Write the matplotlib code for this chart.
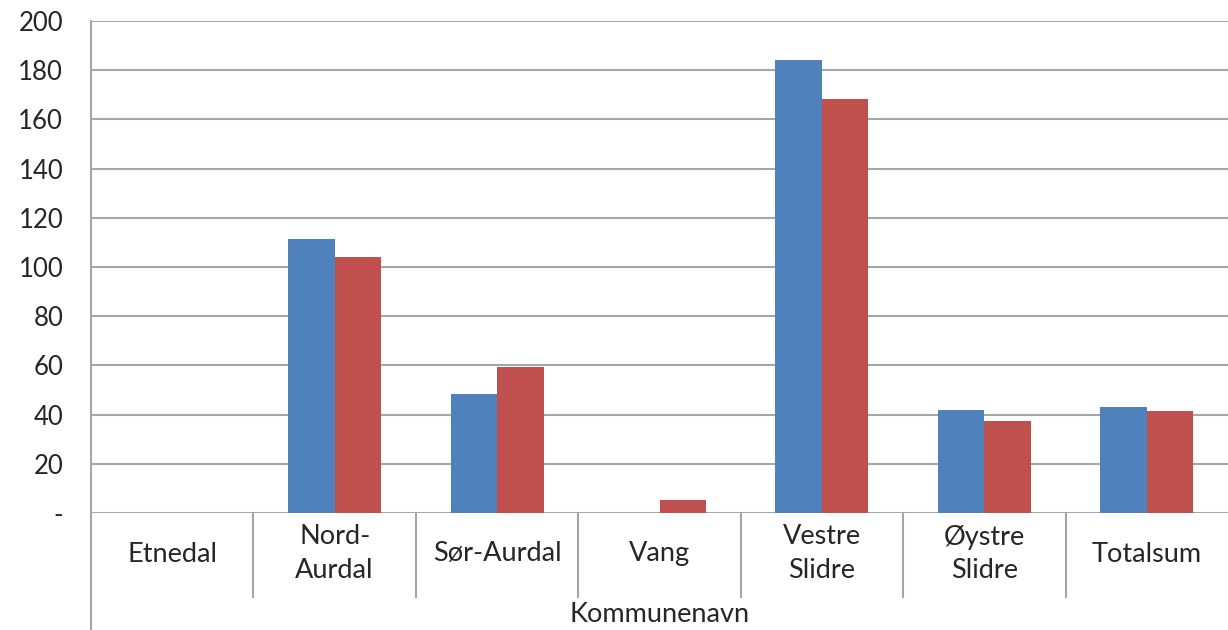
import matplotlib.pyplot as plt
from matplotlib.lines import Line2D
import numpy as np

plt.rcParams['font.family'] = ['Lato', 'DejaVu Sans']

categories = ["Etnedal", "Nord-\nAurdal", "Sør-Aurdal", "Vang", "Vestre\nSlidre", "Øystre\nSlidre", "Totalsum"]
series_a = [0, 111.5, 48.3, 0, 184.3, 42.0, 43.1]
series_b = [0, 104.1, 59.5, 5.3, 168.2, 37.2, 41.5]
y_ticks = [0, 20, 40, 60, 80, 100, 120, 140, 160, 180, 200]
y_labels = ["-"] + [str(v) for v in y_ticks[1:]]
axis_title = "Kommunenavn"

W, H = 1228, 630
fig = plt.figure(figsize=(W / 100, H / 100), dpi=100)
left, right, top, bottom = 91, 1228, 21, 513
ax = fig.add_axes([left / W, 1 - bottom / H, (right - left) / W, (bottom - top) / H])

x = np.arange(len(categories))
bw = 0.286
grid_col = "#A6A6A6"
txt_col = "#262626"
ax.bar(x - bw / 2, series_a, bw, color="#4F81BD", zorder=3)
ax.bar(x + bw / 2, series_b, bw, color="#C0504D", zorder=3)

ax.set_xlim(-0.5, len(categories) - 0.5)
ax.set_ylim(0, 200)
ax.set_yticks(y_ticks)
ax.set_yticklabels(y_labels, fontsize=18.5, color=txt_col)
ax.set_xticks([])
ax.tick_params(axis="y", length=0, pad=20)
ax.yaxis.grid(True, color=grid_col, linewidth=1.5, zorder=0)
for s in ["top", "right", "bottom", "left"]:
    ax.spines[s].set_visible(False)

# category "table" below the axis
row_h = (597 - bottom) / (bottom - top)
trans = ax.get_xaxis_transform()
for b in np.arange(0.5, len(categories) - 0.5, 1):
    ax.add_line(Line2D([b, b], [0, -row_h], transform=trans, color=grid_col,
                       linewidth=1.5, clip_on=False))
for xi, lab in zip(x, categories):
    ax.text(xi, -41 / (bottom - top), lab, transform=trans, ha="center", va="center",
            fontsize=19.5, color=txt_col, linespacing=1.45)

# left axis line running to bottom of figure
fig.add_artist(Line2D([left / W, left / W], [0, 1 - top / H], color=grid_col, linewidth=1.5))

fig.text((left + right) / 2 / W, 1 - 615 / H, axis_title, ha="center", va="center",
         fontsize=19.5, color=txt_col)

fig.savefig("out.png", dpi=100)
